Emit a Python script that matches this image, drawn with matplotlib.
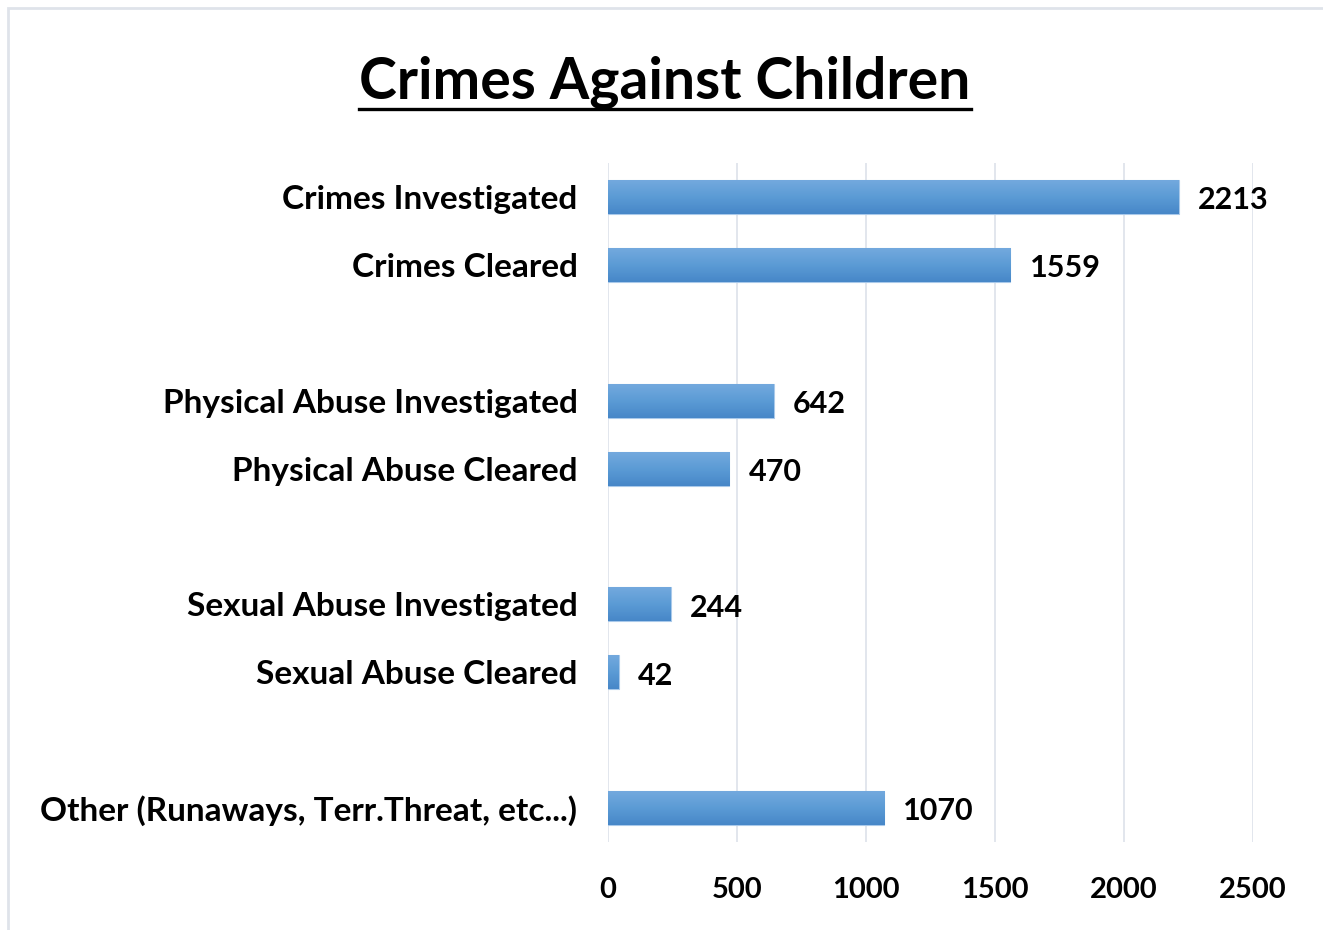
import numpy as np
import matplotlib
matplotlib.use("Agg")
import matplotlib.pyplot as plt
from matplotlib.colors import LinearSegmentedColormap
from matplotlib.lines import Line2D
from matplotlib.patches import Rectangle

# data (blank strings are the gaps between groups)
categories = ["Crimes Investigated", "Crimes Cleared", "",
              "Physical Abuse Investigated", "Physical Abuse Cleared", "",
              "Sexual Abuse Investigated", "Sexual Abuse Cleared", "",
              "Other (Runaways, Terr.Threat, etc...)"]
values = [2213, 1559, None, 642, 470, None, 244, 42, None, 1070]
x_ticks = [0, 500, 1000, 1500, 2000, 2500]

plt.rcParams['font.family'] = ['Lato', 'DejaVu Sans']
plt.rcParams['font.weight'] = 'bold'

fig = plt.figure(figsize=(13.23, 9.30), dpi=100)
# light frame around the chart area
fig.add_artist(Rectangle((8 / 1323, -0.01), 1.1, 1 - 8 / 930 + 0.01, transform=fig.transFigure,
                         fill=False, edgecolor='#dfe3ea', linewidth=2))

ax = fig.add_axes([608 / 1323, 1 - 842 / 930, (1253 - 608) / 1323, (842 - 163) / 930])

bar_cmap = LinearSegmentedColormap.from_list('bar', ['#73a9de', '#5b9bd5', '#4787c8'])
grad = np.linspace(0, 1, 64).reshape(-1, 1)

ypos = np.arange(len(categories))
for y, v in zip(ypos, values):
    if v is None:
        continue
    bar = ax.barh(y, v, height=0.5, color='#5b9bd5', edgecolor='#a9c9ea', linewidth=0.8, zorder=2)[0]
    im = ax.imshow(grad, cmap=bar_cmap, aspect='auto', extent=(0, v, y + 0.25, y - 0.25),
                   zorder=2.5, interpolation='bicubic')
    im.set_clip_path(bar)
    ax.text(v + 75, y + 0.05, str(v), va='center', ha='left', fontsize=22, fontweight='bold')

ax.set_xlim(0, 2500)
ax.set_ylim(len(categories) - 0.5, -0.5)
ax.set_xticks(x_ticks)
ax.set_xticklabels([str(t) for t in x_ticks], fontsize=21, fontweight='bold')
ax.set_yticks(ypos)
ax.set_yticklabels(categories, fontsize=24, fontweight='bold')
ax.tick_params(axis='both', length=0)
ax.tick_params(axis='x', pad=25)
ax.tick_params(axis='y', pad=22)
ax.grid(axis='x', color='#dde2ea', linewidth=1.2, zorder=0)
ax.set_axisbelow(True)
for s in ax.spines.values():
    s.set_visible(False)

title = fig.text(665 / 1323, 1 - 82 / 930, "Crimes Against Children", ha='center', va='center',
                 fontsize=41, fontweight='bold')

# underline the title
fig.canvas.draw()
bb = title.get_window_extent().transformed(fig.transFigure.inverted())
uy = 1 - 109 / 930
fig.add_artist(Line2D([bb.x0, bb.x1], [uy, uy], transform=fig.transFigure, color='black', linewidth=2.4))

fig.savefig("out.png", dpi=100, facecolor='white')
